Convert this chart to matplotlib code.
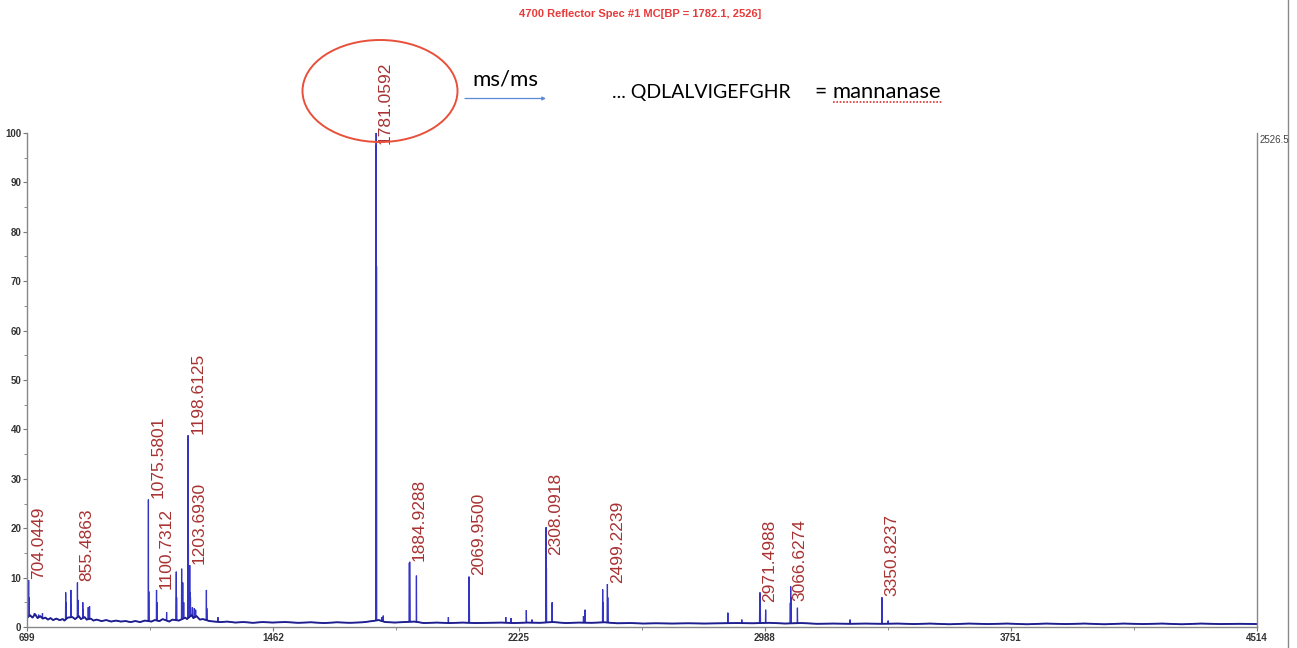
#!/usr/bin/env python3

import numpy as np
import matplotlib.pyplot as plt
from matplotlib.patches import Ellipse
from matplotlib.lines import Line2D

#### ========== Data ==========

# stick peaks: m/z and relative intensity [%]
peakMz = [ 704.0449, 705.05, 722, 735, 747,
           819, 820, 835, 836, 855.4863, 856.49, 872, 873, 889, 893,
           1075.5801, 1076.58, 1100.7312, 1101.73, 1132,
           1162, 1163, 1178.6, 1182, 1185,
           1198.6125, 1199.61, 1200.61, 1203.6930, 1204.69, 1206, 1212, 1218, 1222,
           1255.5, 1256.5, 1291,
           1781.0592, 1782.06, 1783.06, 1800, 1804,
           1884.9288, 1885.93, 1906.9, 2006, 2069.9500, 2070.95,
           2184, 2200, 2247.8, 2265,
           2308.0918, 2309.09, 2310.09, 2327.8, 2425, 2430,
           2484.5, 2485.5, 2499.2239, 2500.22,
           2872.8, 2916, 2971.4988, 2972.50, 2973.50, 2990,
           3066.6274, 3067.63, 3068.63, 3088.6, 3252, 3350.8237, 3370 ]
peakInt = [ 9.5, 6.0, 2.8, 2.5, 2.8,
            7.0, 5.0, 7.5, 4.5, 9.0, 5.5, 5.0, 3.5, 4.0, 4.2,
            25.8, 7.2, 7.5, 5.0, 3.0,
            11.2, 6.0, 11.8, 9.0, 5.0,
            38.8, 17.0, 12.5, 12.5, 7.0, 6.0, 4.0, 3.8, 3.5,
            7.5, 3.8, 2.0,
            97.5, 100.0, 73.0, 2.0, 2.3,
            13.0, 13.2, 10.4, 2.0, 10.2, 6.0,
            2.0, 1.8, 3.4, 1.5,
            14.2, 20.2, 12.0, 5.0, 2.2, 3.5,
            7.6, 5.0, 8.7, 6.0,
            2.9, 1.5, 4.7, 7.0, 5.0, 3.5,
            4.9, 8.2, 6.0, 3.9, 1.5, 6.0, 1.3 ]

# labelled (monoisotopic) peaks
labelMz = [ 704.0449, 855.4863, 1075.5801, 1100.7312, 1198.6125, 1203.6930,
            1781.0592, 1884.9288, 2069.9500, 2308.0918, 2499.2239,
            2971.4988, 3066.6274, 3350.8237 ]

# noisy baseline readings
baseMz  = [ 699, 708, 716, 724, 732, 740, 748, 756, 764, 772, 780, 790, 800,
            810, 815, 825, 840, 848, 860, 866, 878, 884, 897, 905, 915, 930,
            945, 960, 975, 990, 1005, 1020, 1035, 1050, 1065, 1085, 1095, 1110,
            1120, 1140, 1150, 1170, 1190, 1195, 1210, 1215, 1225, 1235, 1245,
            1265, 1280, 1300, 1320, 1345, 1370, 1400, 1430, 1460, 1500, 1540,
            1580, 1620, 1660, 1700, 1740, 1770, 1790, 1810, 1840, 1870, 1900,
            1930, 1970, 2010, 2050, 2090, 2130, 2170, 2210, 2250, 2290, 2330,
            2370, 2410, 2450, 2490, 2530, 2570, 2610, 2650, 2700, 2750, 2800,
            2850, 2900, 2950, 3000, 3050, 3100, 3150, 3200, 3250, 3300, 3350,
            3400, 3450, 3500, 3560, 3620, 3680, 3740, 3800, 3860, 3920, 3980,
            4040, 4100, 4160, 4220, 4280, 4340, 4400, 4460, 4514 ]
baseInt = [ 1.8, 2.4, 1.9, 2.6, 1.8, 2.2, 1.7, 1.9, 1.5, 1.8, 1.4, 1.7, 1.4,
            1.6, 1.3, 1.9, 2.0, 1.6, 2.2, 1.6, 2.0, 1.5, 1.7, 1.3, 1.5, 1.2,
            1.4, 1.1, 1.3, 1.1, 1.2, 1.0, 1.2, 1.0, 1.3, 1.1, 1.4, 1.2,
            1.6, 1.1, 1.5, 1.3, 1.9, 1.6, 2.4, 1.8, 2.2, 1.5, 1.6,
            1.2, 1.1, 1.0, 1.1, 0.9, 1.0, 0.85, 1.0, 0.9, 1.0, 0.85,
            0.95, 0.8, 0.95, 0.85, 0.95, 1.2, 1.4, 1.0, 0.9, 1.0, 1.1,
            0.8, 0.9, 0.8, 0.9, 0.8, 0.85, 0.9, 0.8, 0.9, 0.85, 1.0,
            0.8, 0.9, 0.85, 0.95, 0.75, 0.8, 0.7, 0.75, 0.7, 0.75, 0.7,
            0.75, 0.8, 0.75, 0.85, 0.7, 0.8, 0.65, 0.7, 0.65, 0.7, 0.65,
            0.7, 0.6, 0.7, 0.55, 0.7, 0.6, 0.7, 0.55, 0.7, 0.6, 0.7,
            0.55, 0.7, 0.6, 0.7, 0.55, 0.7, 0.6, 0.65, 0.6 ]

xTicks = [ 699, 1462, 2225, 2988, 3751, 4514 ]
yTicks = [ 0, 10, 20, 30, 40, 50, 60, 70, 80, 90, 100 ]

figTitle = '4700 Reflector Spec #1 MC[BP = 1782.1, 2526]'
maxCounts = '2526.5'

#### ====== End of Data =======

W, H = 1297, 648
fig = plt.figure( figsize = ( W / 100, H / 100 ), dpi = 100 )
fig.patch.set_facecolor( 'white' )

# axes placed in pixels of the original picture
x0, x1, y0, y1 = 27, 1257, 133, 627
ax = fig.add_axes( [ x0 / W, 1 - y1 / H, ( x1 - x0 ) / W, ( y1 - y0 ) / H ] )

# build one trace: baseline plus a narrow triangle per peak
ptsX = list( baseMz )
ptsY = list( baseInt )
for mz, h in zip( peakMz, peakInt ):
    b = np.interp( mz, baseMz, baseInt )
    ptsX += [ mz - 0.6, mz, mz + 0.6 ]
    ptsY += [ b, h, b ]
order = np.argsort( ptsX, kind = 'stable' )
ax.plot( np.array( ptsX )[order], np.array( ptsY )[order],
         color = '#3434c4', lw = 0.9, solid_joinstyle = 'miter' )
# darker, noisier-looking baseline on top
ax.plot( baseMz, baseInt, color = '#1e1e8c', lw = 1.3 )

labFont = [ 'Liberation Sans', 'DejaVu Sans' ]
for mz in labelMz:
    h = peakInt[ peakMz.index( mz ) ]
    ax.annotate( '{:.4f}'.format( mz ), ( mz, h ), xytext = ( 7, 1 ),
                 textcoords = 'offset points', rotation = 90,
                 ha = 'center', va = 'bottom', color = '#a83232',
                 fontsize = 12.5, family = labFont, annotation_clip = False )

ax.set_xlim( 699, 4514 )
ax.set_ylim( 0, 100 )
ax.set_xticks( xTicks )
ax.set_xticks( [ ( a + b ) / 2 for a, b in zip( xTicks[:-1], xTicks[1:] ) ],
               minor = True )
ax.set_yticks( yTicks )
ax.set_yticks( [ v + 5 for v in yTicks[:-1] ], minor = True )

tickFont = [ 'Liberation Sans Narrow', 'Liberation Sans', 'DejaVu Sans' ]
ax.tick_params( which = 'both', direction = 'out', color = '#777777',
                labelsize = 7, labelcolor = '#333333', pad = 1 )
ax.tick_params( which = 'major', length = 3 )
ax.tick_params( which = 'minor', length = 2 )
for lab in ax.get_xticklabels() + ax.get_yticklabels():
    lab.set_family( tickFont )
    lab.set_fontweight( 'bold' )

for s in [ 'left', 'bottom', 'right' ]:
    ax.spines[s].set_color( '#888888' )
    ax.spines[s].set_linewidth( 1.0 )
ax.spines['top'].set_visible( False )

# title and header annotations
fig.text( 640 / W, 1 - 14 / H, figTitle, ha = 'center', va = 'center',
          color = '#e83a3a', fontsize = 8, fontweight = 'bold',
          family = tickFont )
fig.text( 1260 / W, 1 - 140 / H, maxCounts, ha = 'left', va = 'center',
          color = '#444444', fontsize = 7, family = tickFont )
fig.add_artist( Line2D( [ 1288 / W, 1288 / W ], [ 0, 1 ],
                        transform = fig.transFigure, color = '#888888',
                        lw = 1 ) )

fig.add_artist( Ellipse( ( 380 / W, 1 - 91 / H ), 155 / W, 102 / H,
                         transform = fig.transFigure, fill = False,
                         edgecolor = '#e8503a', lw = 1.4 ) )

noteFont = [ 'Lato', 'DejaVu Sans' ]
fig.text( 472 / W, 1 - 85 / H, 'ms/ms', ha = 'left', va = 'baseline',
          fontsize = 16, family = noteFont, color = 'black' )
ax.annotate( '', xy = ( 546 / W, 1 - 98.5 / H ), xytext = ( 465 / W, 1 - 98.5 / H ),
             xycoords = 'figure fraction', textcoords = 'figure fraction',
             arrowprops = dict( arrowstyle = '-|>', color = '#5b8ad6', lw = 0.9,
                                mutation_scale = 5, shrinkA = 0, shrinkB = 0 ) )
fig.text( 612 / W, 1 - 98 / H, '... QDLALVIGEFGHR', ha = 'left', va = 'baseline',
          fontsize = 14, family = noteFont, color = 'black' )
fig.text( 814 / W, 1 - 98 / H, '=', ha = 'left', va = 'baseline',
          fontsize = 15, family = noteFont, color = 'black' )
fig.text( 832 / W, 1 - 98 / H, 'mannanase', ha = 'left', va = 'baseline',
          fontsize = 15.8, family = noteFont, color = 'black' )
fig.add_artist( Line2D( [ 833 / W, 943 / W ], [ 1 - 101.5 / H, 1 - 101.5 / H ],
                        transform = fig.transFigure, color = '#e03030',
                        lw = 1.2, ls = ( 0, ( 1, 1 ) ) ) )

fig.savefig( 'out.png', dpi = 100 )
